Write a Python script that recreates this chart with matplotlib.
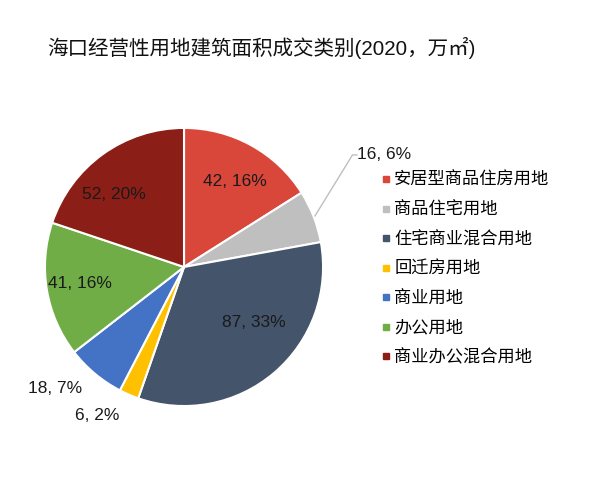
import numpy as np
import matplotlib
matplotlib.use("Agg")
import matplotlib.pyplot as plt
from matplotlib.lines import Line2D

plt.rcParams['font.family'] = ['Liberation Sans', 'Noto Sans CJK SC', 'DejaVu Sans']

categories = ['安居型商品住房用地', '商品住宅用地', '住宅商业混合用地', '回迁房用地',
              '商业用地', '办公用地', '商业办公混合用地']
values = [42, 16, 87, 6, 18, 41, 52]
percents = [16, 6, 33, 2, 7, 16, 20]
colors = ['#D9473A', '#BFBFBF', '#44546A', '#FFC000', '#4472C4', '#70AD47', '#8B1E17']

# label positions (data units, pie radius 0.927)
label_xy = [(0.337, 0.567), (1.153, 0.747), (0.463, -0.373), (-0.58, -0.987),
            (-0.86, -0.807), (-0.693, -0.107), (-0.467, 0.48)]
label_ha = ['center', 'left', 'center', 'center', 'center', 'center', 'center']

fig = plt.figure(figsize=(6, 4.94), dpi=100)
ax = fig.add_axes([0.0567, 0.1559, 0.5, 0.6073])
ax.axis('off')

R = 0.927
wedges, _ = ax.pie(values, colors=colors, radius=R, startangle=90, counterclock=False,
                   wedgeprops=dict(edgecolor='white', linewidth=1.5))
ax.set_xlim(-1, 1)
ax.set_ylim(-1, 1)
ax.set_aspect('equal')

for i, (v, p) in enumerate(zip(values, percents)):
    x, y = label_xy[i]
    ax.text(x, y, f'{v}, {p}%', ha=label_ha[i], va='center', fontsize=12.5,
            color='#1a1a1a', clip_on=False)

# leader line for the small grey slice
w = wedges[1]
mid = np.deg2rad((w.theta1 + w.theta2) / 2)
x0, y0 = (R + 0.01) * np.cos(mid), (R + 0.01) * np.sin(mid)
lx, ly = label_xy[1]
ax.plot([x0, lx - 0.03, lx], [y0, ly, ly], color='#BFBFBF', lw=1, clip_on=False)

handles = [Line2D([], [], marker='s', linestyle='none', markersize=4,
                  markerfacecolor=c, markeredgecolor=c) for c in colors]
fig.legend(handles, categories, loc='upper left', bbox_to_anchor=(0.637, 0.652),
           frameon=False, fontsize=12.4, handlelength=0.4, handletextpad=0.3,
           labelspacing=0.78, borderaxespad=0, borderpad=0)

fig.text(0.078, 1 - 48 / 494, '海口经营性用地建筑面积成交类别(2020，万㎡)', ha='left',
         va='center', fontsize=14.8, color='#111111', fontweight='medium')

fig.savefig('out.png', dpi=100)
